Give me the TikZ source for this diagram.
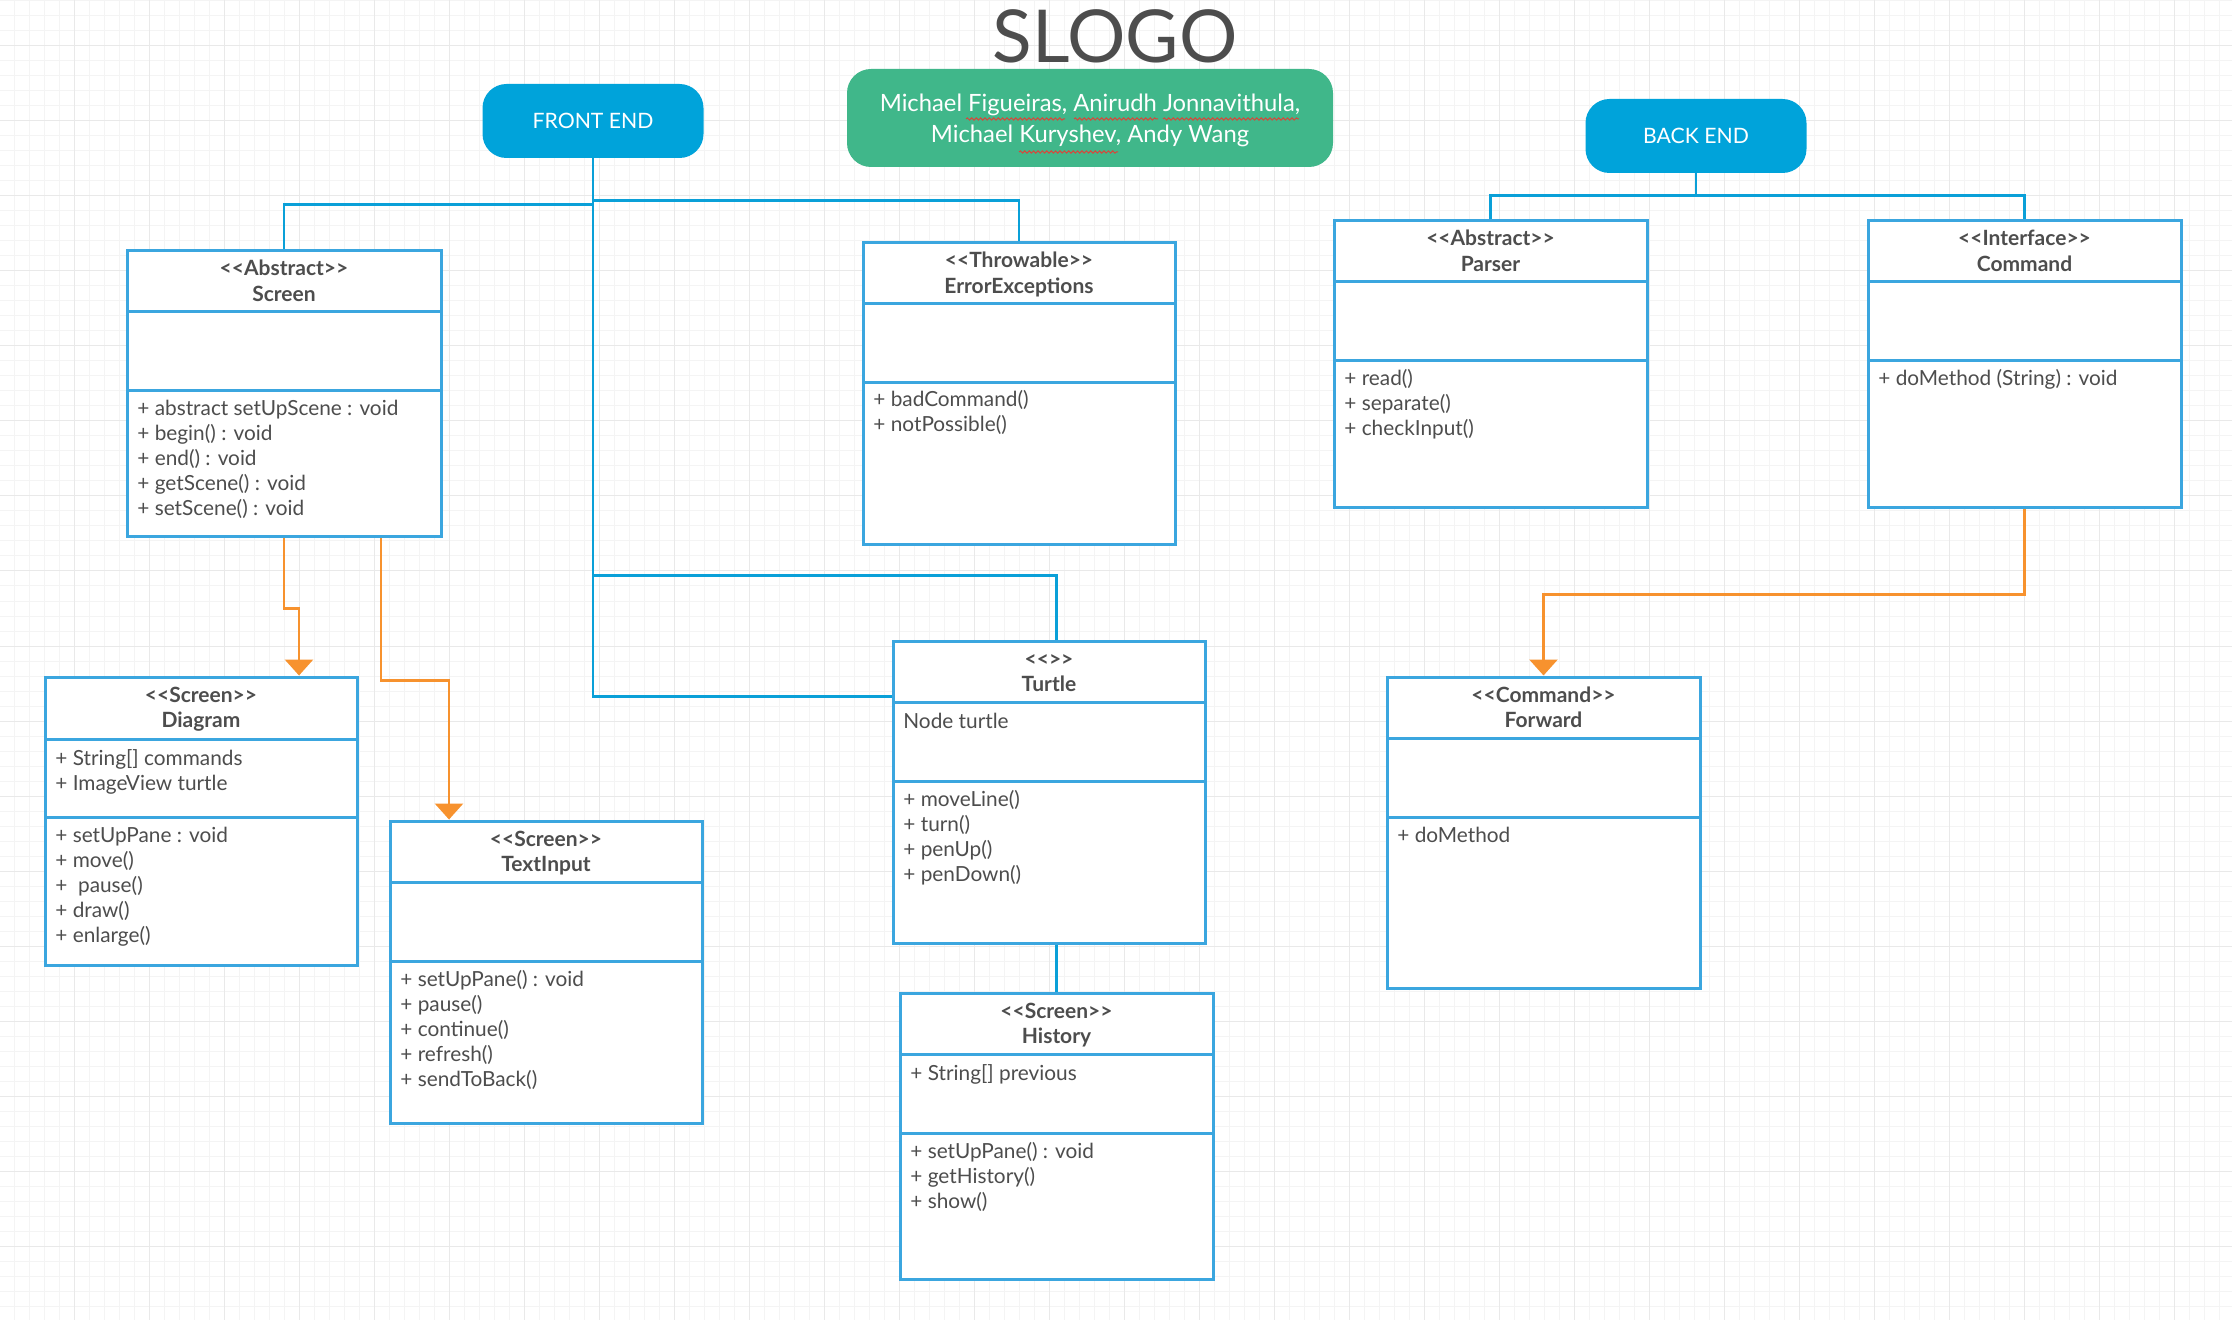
\documentclass[tikz,border=0pt]{standalone}
\usepackage{fontspec}
\setmainfont{Lato}[Ligatures=TeXOff]
\usetikzlibrary{arrows.meta,calc,decorations.pathmorphing}
\definecolor{boxblue}{HTML}{3BA6DF}
\definecolor{connblue}{HTML}{0AA0D8}
\definecolor{headblue}{HTML}{00A3DA}
\definecolor{uorange}{HTML}{F7922E}
\definecolor{ugreen}{HTML}{40B78A}
\definecolor{textgray}{HTML}{4D4D4D}
\definecolor{gridminor}{HTML}{F4F4F4}
\definecolor{gridmajor}{HTML}{E9E9E9}
\definecolor{squigred}{HTML}{D9453A}
\newcommand\ltab[1]{\begin{tabular}[t]{@{}l@{}}#1\end{tabular}}
\newcommand\ctab[1]{\begin{tabular}[t]{@{}c@{}}#1\end{tabular}}
\tikzset{
  classbox/.style={draw=boxblue, line width=1.5pt, fill=white, inner sep=0pt},
  divline/.style={draw=boxblue, line width=1.5pt},
  hdr/.style={font=\fontsize{10.5pt}{12.7pt}\selectfont\bfseries, text=textgray, inner sep=0pt, anchor=base},
  body/.style={font=\fontsize{10.4pt}{12.5pt}\selectfont, text=textgray, inner sep=0pt, anchor=base west},
  conn/.style={draw=connblue, line width=1.4pt},
  inh/.style={draw=uorange, line width=1.4pt, -{Triangle[width=14pt,length=8pt]}},
  pill/.style={fill=headblue, rounded corners=12pt, inner sep=0pt, text=white,
    font=\fontsize{10.6pt}{12pt}\selectfont, text height=7.6pt, text depth=0pt},
  squig/.style={draw=squigred, line width=0.5pt, decorate,
    decoration={snake, amplitude=0.55pt, segment length=2.2pt}},
}
\newcommand\umlclass[8]{%
  \node[classbox, minimum width={(#4-#2)*0.5pt}, minimum height={(#5-#3)*0.5pt}] (#1) at ({(#2+#4)/2},{(#3+#5)/2}) {};
  \draw[divline] (#2,#6) -- (#4,#6);
  \draw[divline] (#2,#7) -- (#4,#7);
  \node[hdr] (#1-head) at ({(#2+#4)/2},{#3+25}) {\ctab{#8}};
}
\begin{document}
\begin{tikzpicture}[x=0.5pt,y=-0.5pt]
\useasboundingbox (0,0) rectangle (2232,1320);
\fill[white] (0,0) rectangle (2232,1320);
% grid
\foreach \x in {14,29,...,2232} \draw[gridminor, line width=0.5pt] (\x,0) -- (\x,1320);
\foreach \y in {1,16,...,1320} \draw[gridminor, line width=0.5pt] (0,\y) -- (2232,\y);
\foreach \x in {74,149,...,2232} \draw[gridmajor, line width=0.5pt] (\x,0) -- (\x,1320);
\foreach \y in {46,121,...,1320} \draw[gridmajor, line width=0.5pt] (0,\y) -- (2232,\y);

% title and authors
\node[font=\fontsize{36.5pt}{40pt}\selectfont, text=textgray, anchor=base, inner sep=0pt] (title) at (1115,63) {SLOGO};
\node[fill=ugreen, rounded corners=12pt, minimum width=243pt, minimum height=49pt, inner sep=0pt] (authors) at (1090,118) {};
\node[font=\fontsize{11.9pt}{15.5pt}\selectfont, text=white, anchor=base, inner sep=0pt] (authors-text) at (1090,112)
  {\ctab{Michael Figueiras, Anirudh Jonnavithula,\\Michael Kuryshev, Andy Wang}};
\draw[squig] (966,119) -- (1065,119);
\draw[squig] (1074,119) -- (1158,119);
\draw[squig] (1163,119) -- (1299,119);
\draw[squig] (1019,152) -- (1118,152);

% section pills
\node[pill, minimum width=110.5pt, minimum height=37pt] (fe) at (593,121) {FRONT END};
\node[pill, minimum width=110.5pt, minimum height=37pt] (be) at (1696,136) {BACK END};

% classes
\umlclass{screen}{127}{251}{441}{537}{312}{391}{<<Abstract>>\\Screen}
\node[body] (screen-ops) at (137,416) {\ltab{+ abstract setUpScene : void\\+ begin() : void\\+ end() : void\\+ getScene() : void\\+ setScene() : void}};

\umlclass{err}{863}{243}{1175}{545}{304}{383}{<<Throwable>>\\ErrorExceptions}
\node[body] (err-ops) at (873,407) {\ltab{+ badCommand()\\+ notPossible()}};

\umlclass{parser}{1334}{221}{1647}{508}{282}{361}{<<Abstract>>\\Parser}
\node[body] (parser-ops) at (1344,386) {\ltab{+ read()\\+ separate()\\+ checkInput()}};

\umlclass{command}{1868}{221}{2181}{508}{282}{361}{<<Interface>>\\Command}
\node[body] (command-ops) at (1878,386) {\ltab{+ doMethod (String) : void}};

\umlclass{diag}{45}{677}{357}{965}{739}{817}{<<Screen>>\\Diagram}
\node[body] (diag-attr) at (55,765) {\ltab{+ String[] commands\\+ ImageView turtle}};
\node[body] (diag-ops) at (55,842) {\ltab{+ setUpPane : void\\+ move()\\+ \ pause()\\+ draw()\\+ enlarge()}};

\umlclass{ti}{390}{821}{702}{1123}{882}{961}{<<Screen>>\\TextInput}
\node[body] (ti-ops) at (400,986) {\ltab{+ setUpPane() : void\\+ pause()\\+ continue()\\+ refresh()\\+ sendToBack()}};

\umlclass{turtle}{893}{641}{1205}{943}{702}{781}{<<>>\\Turtle}
\node[body] (turtle-attr) at (903,728) {\ltab{Node turtle}};
\node[body] (turtle-ops) at (903,806) {\ltab{+ moveLine()\\+ turn()\\+ penUp()\\+ penDown()}};

\umlclass{hist}{900}{993}{1213}{1279}{1054}{1133}{<<Screen>>\\History}
\node[body] (hist-attr) at (910,1080) {\ltab{+ String[] previous}};
\node[body] (hist-ops) at (910,1158) {\ltab{+ setUpPane() : void\\+ getHistory()\\+ show()}};

\umlclass{fwd}{1387}{677}{1700}{988}{738}{817}{<<Command>>\\Forward}
\node[body] (fwd-ops) at (1397,842) {\ltab{+ doMethod}};

% front end connectors
\draw[conn] (fe.south) |- ([yshift=-28.5pt]turtle.north west);
\draw[conn] ([yshift=-23pt]fe.south) -| (screen.north);
\draw[conn] ([yshift=-21pt]fe.south) -| (err.north);
\draw[conn] ([yshift=-208.5pt]fe.south) -| (hist.north |- turtle.north);
\draw[conn] (hist.north |- turtle.south) -- (hist.north);

% back end connectors
\draw[conn] (be.south) -- ++(0,24);
\draw[conn] (parser.north) -- ++(0,-24) -| (command.north);

% inheritance arrows
\draw[inh] (screen.south) -- ++(0,70) -| ([xshift=49pt]diag.north);
\draw[inh] ([xshift=48.5pt]screen.south) -- ++(0,142) -| ([xshift=-48.5pt]ti.north);
\draw[inh] (command.south) -- ++(0,85) -| (fwd.north);
\end{tikzpicture}
\end{document}
